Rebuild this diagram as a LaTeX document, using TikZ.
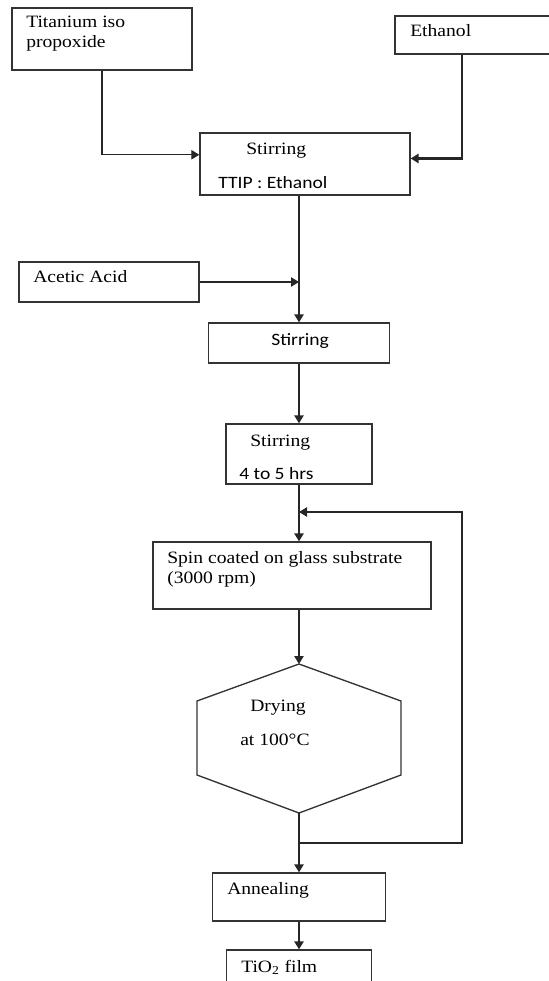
\documentclass[tikz,border=0pt]{standalone}
\usepackage{fontspec}
\setmainfont[FakeStretch=1.13]{Liberation Serif}
\newfontfamily\calib[FakeStretch=1.13]{Carlito}
\usetikzlibrary{arrows.meta}

\begin{document}
\begin{tikzpicture}[x=0.75pt,y=-0.75pt,
  box/.style={draw=black!80,line width=1pt,inner sep=0pt},
  txt/.style={anchor=base west,inner sep=0pt,align=left,font=\fontsize{13}{15}\selectfont},
  sans/.style={txt,font=\calib\fontsize{13}{15}\selectfont},
  arr/.style={draw=black!85,line width=1.2pt,-{Triangle[length=6pt,width=7pt]}}]
\clip (0,0) rectangle (549,981);
% Preparation des films de TiO2
\node[box,minimum width=135pt,minimum height=46.5pt] (ttip) at (102,39) {};
\node[box,minimum width=120pt,minimum height=28.5pt] (eth) at (475,35) {};
\node[box,minimum width=157.5pt,minimum height=46.5pt] (stir1) at (305,164) {};
\node[box,minimum width=135pt,minimum height=30pt] (acid) at (109,282) {};
\node[box,minimum width=135.75pt,minimum height=30pt] (stir2) at (299,343) {};
\node[box,minimum width=109.5pt,minimum height=45pt] (stir3) at (299,454) {};
\node[box,minimum width=208.5pt,minimum height=50.25pt] (spin) at (292,575.5) {};
\node[box,minimum width=129.75pt,minimum height=36pt] (anneal) at (299,897) {};
\node[box,minimum width=108.75pt,minimum height=37.5pt] (film) at (299,975) {};
\coordinate (dtop) at (299,664);
\coordinate (dbot) at (299,813);
\draw[black!80,line width=1pt] (dtop) -- (401,701) -- (401,775) -- (dbot) -- (197,775) -- (197,701) -- cycle;

\node[txt] (t1) at (26,48) {Titanium iso\\propoxide};
\node[txt] (t2) at (410,37) {Ethanol};
\node[txt] (t3) at (246,154) {Stirring};
\node[sans] (t4) at (218,188) {TTIP : Ethanol};
\node[txt] (t5) at (33,282) {Acetic Acid};
\node[sans] (t6) at (271,345) {Stirring};
\node[txt] (t7) at (250,446) {Stirring};
\node[sans] (t8) at (239,479) {4 to 5 hrs};
\node[txt] (t9) at (167,583) {Spin coated on glass substrate\\(3000 rpm)};
\node[txt] (t10) at (250,711) {Drying};
\node[txt] (t11) at (240,745) {at 100°C};
\node[txt] (t12) at (227,894) {Annealing};
\node[txt] (t13) at (241,972) {TiO\textsubscript{2} film};

\coordinate (fb1) at (299,843);
\coordinate (fb2) at (462,512);
\coordinate (fb3) at (299,512);
\draw[arr,line width=0.9pt] (ttip.south) |- (stir1.175);
\draw[arr,line width=1.6pt] (eth.236) |- (stir1.3);
\draw[arr] (stir1.south -| stir2.north) -- (stir2.north);
\draw[arr,line width=0.9pt] (acid.east) -- (acid.east -| stir2.north);
\draw[arr] (stir2) -- (stir3);
\draw[arr] (stir3.south) -- (spin.north -| stir3.south);
\draw[arr] (spin.south -| dtop) -- (dtop);
\draw[arr] (dbot) -- (anneal.north);
\draw[arr,line width=0.9pt] (fb1) -| (fb2) -- (fb3);
\draw[arr] (anneal) -- (film);
\end{tikzpicture}
\end{document}
